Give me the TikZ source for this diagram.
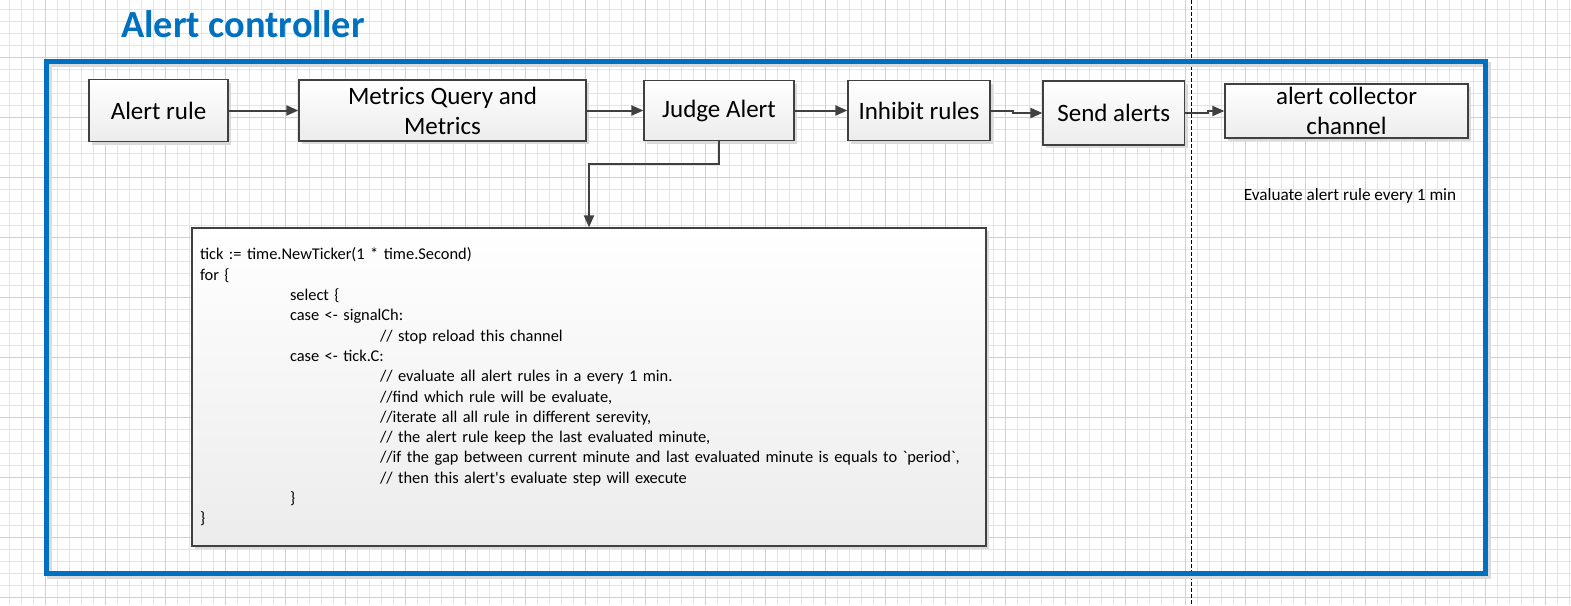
\documentclass[tikz,border=0pt]{standalone}
\usepackage{fontspec}
\setmainfont{Carlito}
\newfontfamily\codefont{Carlito}[Ligatures=TeXOff]
\usetikzlibrary{arrows.meta,shadows}

\definecolor{ctrlblue}{RGB}{0,112,192}
\definecolor{linegray}{RGB}{64,64,64}
\definecolor{boxgray}{RGB}{236,236,236}
\definecolor{shadowgray}{RGB}{218,218,218}
\definecolor{minorgray}{RGB}{228,228,228}
\definecolor{majorgray}{RGB}{208,208,208}

\tikzset{
  procbox/.style={draw=linegray, line width=1.2pt, top color=white, bottom color=boxgray,
    inner sep=0pt, align=center, font=\fontsize{25}{30}\selectfont,
    drop shadow={shadow xshift=3pt, shadow yshift=-3pt, fill=shadowgray, opacity=1}},
  codebox/.style={procbox, align=left, inner xsep=8pt, text width=778pt,
    font=\codefont\fontsize{16.4}{20.3}\selectfont},
  flow/.style={draw=linegray, line width=2pt, -{Triangle[length=12pt,width=10pt]}},
  minorline/.style={draw=minorgray, line width=1pt},
  majorline/.style={draw=majorgray, line width=1pt},
}

\begin{document}
\begin{tikzpicture}[x=1pt, y=-1pt]
  \useasboundingbox (0,0) rectangle (1571,605);
  % grid
  \foreach \gx in {9.3,21.3,...,1571} \draw[minorline] (\gx,0) -- (\gx,605);
  \foreach \gy in {9.3,21.3,...,605} \draw[minorline] (0,\gy) -- (1571,\gy);
  \foreach \gx in {45.3,105.3,...,1571} \draw[majorline] (\gx,0) -- (\gx,605);
  \foreach \gy in {57.3,117.3,...,605} \draw[majorline] (0,\gy) -- (1571,\gy);

  \draw[black, line width=0.8pt, dash pattern=on 4pt off 2pt] (1191.5,0) -- (1191.5,605);

  % controller frame
  \draw[shadowgray, line width=5pt] (49,64) rectangle (1488,576);
  \draw[ctrlblue, line width=5pt] (46,61) rectangle (1485,573);
  \node[anchor=base west, inner sep=0pt, text=ctrlblue, font=\bfseries\fontsize{38.4}{40}\selectfont]
    (title) at (121,37.3) {Alert controller};

  \node[procbox, minimum width=139pt, minimum height=62pt] (rule) at (158.5,110.5) {Alert rule};
  \node[procbox, minimum width=287pt, minimum height=61pt] (metrics) at (442.5,110.5) {Metrics Query and\\Metrics};
  \node[procbox, minimum width=150pt, minimum height=60pt] (judge) at (719,110.5) {Judge Alert};
  \node[procbox, minimum width=142pt, minimum height=60pt] (inhibit) at (919,110.5) {Inhibit rules};
  \node[procbox, minimum width=141.6pt, minimum height=64pt] (send) at (1113.8,113) {Send alerts};
  \node[procbox, minimum width=243pt, minimum height=54pt] (collector) at (1346.5,111) {alert collector\\channel};
  \node[inner sep=0pt, font=\fontsize{17.2}{20}\selectfont] (every) at (1350,196) {Evaluate alert rule every 1 min};

  \node[codebox, minimum height=318pt] (code) at (589,387) {%
    tick := time.NewTicker(1 * time.Second)\\
    for \{\\
    \hspace*{90pt}select \{\\
    \hspace*{90pt}case <- signalCh:\\
    \hspace*{180pt}// stop reload this channel\\
    \hspace*{90pt}case <- tick.C:\\
    \hspace*{180pt}// evaluate all alert rules in a every 1 min.\\
    \hspace*{180pt}//find which rule will be evaluate,\\
    \hspace*{180pt}//iterate all all rule in different serevity,\\
    \hspace*{180pt}// the alert rule keep the last evaluated minute,\\
    \hspace*{180pt}//if the gap between current minute and last evaluated minute is equals to `period`,\\
    \hspace*{180pt}// then this alert's evaluate step will execute\\
    \hspace*{90pt}\}\\
    \}};

  \draw[flow] (rule) -- (metrics);
  \draw[flow] (metrics) -- (judge);
  \draw[flow] (judge) -- (inhibit);
  \draw[flow] (inhibit.east) -- ++(22,0) |- (send.west);
  \draw[flow] (send.east) -- ++(23,0) |- (collector.west);
  \draw[flow] (judge.south) -- ++(0,23) -| (code.north);
\end{tikzpicture}
\end{document}
